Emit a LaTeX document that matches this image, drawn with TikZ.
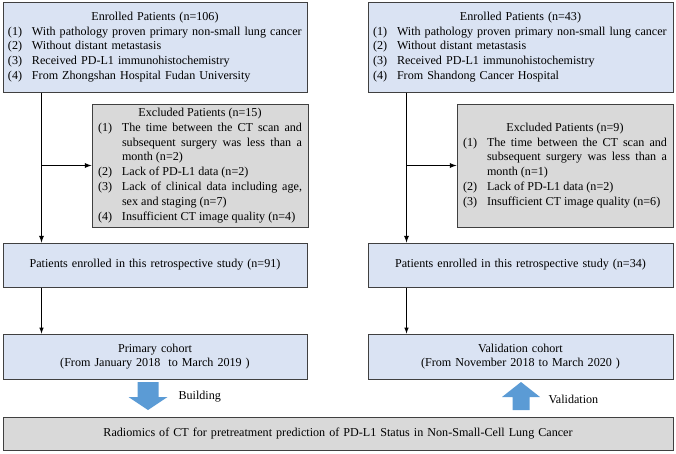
\documentclass[tikz,border=0pt]{standalone}
\usepackage{fontspec}
\setmainfont{Liberation Serif}

\definecolor{boxblue}{HTML}{DAE3F3}
\definecolor{boxgray}{HTML}{D9D9D9}
\definecolor{edgegray}{HTML}{404040}
\definecolor{arrowblue}{HTML}{5B9BD5}

\newcommand{\itm}[2]{\par\noindent\hangindent=24pt\hangafter=1\makebox[24pt][l]{#1}#2}
\newcommand{\ttl}[1]{{\centering #1\par}}
\hyphenpenalty=10000\relax

\begin{document}
\begin{tikzpicture}[x=1pt, y=-1pt,
        box/.style={draw=edgegray, line width=1pt, inner xsep=5pt, inner ysep=0pt,
            font=\fontsize{12.1}{14.8}\selectfont},
        bluebox/.style={box, fill=boxblue},
        graybox/.style={box, fill=boxgray},
        fatarrow/.style={fill=arrowblue},
        line/.style={->, >=latex, line width=1.3pt}]
        \useasboundingbox (0,0) rectangle (676,453);

        % left column
        \node[bluebox, minimum width=304pt, minimum height=90pt, text width=294pt, align=left] (enrolA) at (155,47) {%
            \ttl{Enrolled Patients (n=106)}%
            \itm{(1)}{With pathology proven primary non-small lung cancer}%
            \itm{(2)}{Without distant metastasis}%
            \itm{(3)}{Received PD-L1 immunohistochemistry}%
            \itm{(4)}{From Zhongshan Hospital Fudan University}};
        \node[graybox, minimum width=216pt, minimum height=123pt, text width=204pt, align=justify] (exclA) at (200,165.5) {%
            \ttl{Excluded Patients (n=15)}%
            \itm{(1)}{The time between the CT scan and\linebreak subsequent surgery was less than a\linebreak month (n=2)}%
            \itm{(2)}{Lack of PD-L1 data (n=2)}%
            \itm{(3)}{Lack of clinical data including age,\linebreak sex and staging (n=7)}%
            \itm{(4)}{Insufficient CT image quality (n=4)}};
        \node[bluebox, minimum width=304pt, minimum height=44pt, text width=294pt, align=center] (patA) at (155,265) {Patients enrolled in this retrospective study (n=91)};
        \node[bluebox, minimum width=304pt, minimum height=45pt, text width=294pt, align=center] (cohA) at (155,356.5) {Primary cohort\\(From January 2018\ \ to March 2019 )};

        % right column
        \node[bluebox, minimum width=305pt, minimum height=90pt, text width=295pt, align=left] (enrolB) at (520.5,47) {%
            \ttl{Enrolled Patients (n=43)}%
            \itm{(1)}{With pathology proven primary non-small lung cancer}%
            \itm{(2)}{Without distant metastasis}%
            \itm{(3)}{Received PD-L1 immunohistochemistry}%
            \itm{(4)}{From Shandong Cancer Hospital}};
        \node[graybox, minimum width=216pt, minimum height=123pt, text width=204pt, align=justify] (exclB) at (565,165.5) {%
            \ttl{Excluded Patients (n=9)}%
            \itm{(1)}{The time between the CT scan and\linebreak subsequent surgery was less than a\linebreak month (n=1)}%
            \itm{(2)}{Lack of PD-L1 data (n=2)}%
            \itm{(3)}{Insufficient CT image quality (n=6)}};
        \node[bluebox, minimum width=305pt, minimum height=44pt, text width=295pt, align=center] (patB) at (520.5,265) {Patients enrolled in this retrospective study (n=34)};
        \node[bluebox, minimum width=305pt, minimum height=45pt, text width=295pt, align=center] (cohB) at (520.5,356.5) {Validation cohort\\(From November 2018 to March 2020 )};

        % bottom
        \node[graybox, minimum width=670pt, minimum height=33pt, text width=660pt, align=center] (radio) at (338,433.5) {Radiomics of CT for pretreatment prediction of PD-L1 Status in Non-Small-Cell Lung Cancer};

        % block arrows
        \coordinate (build) at (148,382);
        \coordinate (valid) at (521,410);
        \fill[fatarrow] (build) ++(-10.5,0) -- ++(21,0) -- ++(0,15) -- ++(9,0) -- ++(-19.5,13)
            -- ++(-19.5,-13) -- ++(9,0) -- cycle;
        \fill[fatarrow] (valid) ++(-8.5,0) -- ++(17,0) -- ++(0,-13) -- ++(10.5,0) -- ++(-19,-15)
            -- ++(-19,15) -- ++(10.5,0) -- cycle;
        \node[anchor=west, font=\fontsize{12.1}{14.8}\selectfont] (buildlbl) at (175,397) {Building};
        \node[anchor=west, font=\fontsize{12.1}{14.8}\selectfont] (validlbl) at (545,399) {Validation};

        % connectors
        \draw[line] ([xshift=39pt]enrolA.south west) -- ([xshift=39pt]patA.north west);
        \draw[line] ([xshift=39pt]enrolA.south west |- exclA.west) -- (exclA.west);
        \draw[line, line width=1pt] ([xshift=39pt]patA.south west) -- ([xshift=39pt]cohA.north west);
        \draw[line] ([xshift=39pt]enrolB.south west) -- ([xshift=39pt]patB.north west);
        \draw[line] ([xshift=39pt]enrolB.south west |- exclB.west) -- (exclB.west);
        \draw[line, line width=1pt] ([xshift=39pt]patB.south west) -- ([xshift=39pt]cohB.north west);
    \end{tikzpicture}
\end{document}
